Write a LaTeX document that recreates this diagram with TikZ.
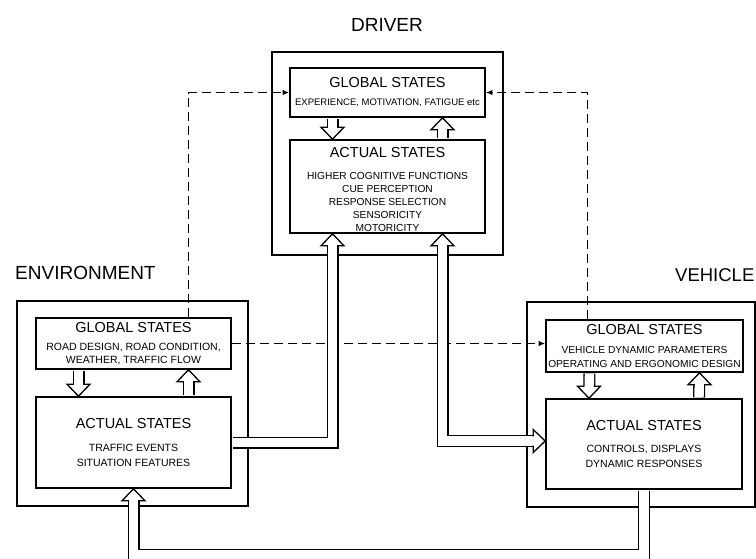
\documentclass[tikz,border=0pt]{standalone}
\usepackage{fontspec}
\setmainfont{Liberation Sans}
\usetikzlibrary{arrows.meta,calc}

\newcommand{\boxhead}[1]{{\fontsize{14.5}{16}\selectfont #1}}

\begin{document}
\begin{tikzpicture}[x=1pt,y=-1pt,
  sysbox/.style={draw,line width=1.6pt,inner sep=0pt},
  statebox/.style={draw,line width=1.6pt,inner sep=0pt,align=center,font=\fontsize{10.2}{14}\selectfont},
  syslabel/.style={inner sep=0pt,font=\fontsize{19}{22}\selectfont},
  fat/.style={double=white,double distance=9.4pt,line width=1.3pt,shorten <=0.8pt},
  feedback/.style={dash pattern=on 9pt off 5pt,line width=1.4pt,-{Latex[length=6.5pt,width=5.5pt]}},
  fathead/.pic={\filldraw[fill=white,line width=1.3pt,line join=miter]
    (-4.7,12) -- (-11.5,12) -- (0,0) -- (11.5,12) -- (4.7,12);}]
  \useasboundingbox (0,0) rectangle (756,558);

  % driver
  \node[syslabel] (drvlabel) at (387,25) {DRIVER};
  \node[sysbox,minimum width=231pt,minimum height=203pt] (dout) at (387.5,153.5) {};
  \node[statebox,minimum width=195pt,minimum height=49pt] (dglob) at (387.5,92.5)
    {\boxhead{GLOBAL STATES}\\[4pt]{\fontsize{9.5}{11}\selectfont EXPERIENCE, MOTIVATION, FATIGUE etc}};
  \node[statebox,minimum width=195pt,minimum height=93pt,font=\fontsize{10.2}{12.8}\selectfont] (dact) at (387.5,186.5)
    {\boxhead{\rule{0pt}{15.5pt}ACTUAL STATES}\\[9.8pt]HIGHER COGNITIVE FUNCTIONS\\CUE PERCEPTION\\RESPONSE SELECTION\\SENSORICITY\\MOTORICITY};

  % environment
  \node[syslabel,anchor=west] (envlabel) at (15,273) {ENVIRONMENT};
  \node[sysbox,minimum width=231pt,minimum height=205pt] (eout) at (132.5,403.5) {};
  \node[statebox,minimum width=195pt,minimum height=51pt,font=\fontsize{10.5}{13}\selectfont] (eglob) at (133.5,343.5)
    {\boxhead{GLOBAL STATES}\\[5.6pt]ROAD DESIGN, ROAD CONDITION,\\WEATHER, TRAFFIC FLOW};
  \node[statebox,minimum width=195pt,minimum height=91pt,font=\fontsize{10.5}{15}\selectfont] (eact) at (133.5,442.5)
    {\boxhead{ACTUAL STATES}\\[8.6pt]TRAFFIC EVENTS\\SITUATION FEATURES};

  % vehicle
  \node[syslabel,anchor=west,font=\fontsize{18.5}{22}\selectfont] (vehlabel) at (675,275) {VEHICLE};
  \node[sysbox,minimum width=228pt,minimum height=205pt] (vout) at (641,404.5) {};
  \node[statebox,minimum width=197pt,minimum height=52pt] (vglob) at (644.5,346)
    {\boxhead{GLOBAL STATES}\\[4.6pt]VEHICLE DYNAMIC PARAMETERS\\OPERATING AND ERGONOMIC DESIGN};
  \node[statebox,minimum width=196pt,minimum height=90pt,font=\fontsize{10.5}{15}\selectfont] (vact) at (644,444)
    {\boxhead{ACTUAL STATES}\\[6.6pt]CONTROLS, DISPLAYS\\DYNAMIC RESPONSES};

  % global states links
  \draw[feedback] ([xshift=55pt]eglob.north) |- (dglob.west);
  \draw[feedback] ([xshift=-57pt]vglob.north) |- (dglob.east);
  \draw[feedback] (eglob.east) -- (eglob.east -| vglob.west);

  % global <-> actual inside each system
  \foreach \g/\a in {dglob/dact,eglob/eact,vglob/vact} {
    \draw[fat,shorten >=11pt] ([xshift=-55pt]\g.south) -- ([xshift=-55pt]\a.north);
    \pic[rotate=180] at ([xshift=-55pt]\a.north) {fathead};
    \draw[fat,shorten >=11pt] ([xshift=55pt]\a.north) -- ([xshift=55pt]\g.south);
    \pic at ([xshift=55pt]\g.south) {fathead};
  }

  % actual states links
  \draw[fat,shorten >=11pt] (eact.east) -| ([xshift=-55pt]dact.south);
  \pic at ([xshift=-55pt]dact.south) {fathead};
  \draw[fat,shorten <=11pt,shorten >=11pt] ([xshift=55pt]dact.south) |- ([yshift=3pt]vact.west);
  \pic at ([xshift=55pt]dact.south) {fathead};
  \pic[rotate=-90] at ([yshift=3pt]vact.west) {fathead};
  \draw[fat,shorten >=11pt] (vact.south) -- ++(0,65) -| (eact.south);
  \pic at (eact.south) {fathead};
\end{tikzpicture}
\end{document}
